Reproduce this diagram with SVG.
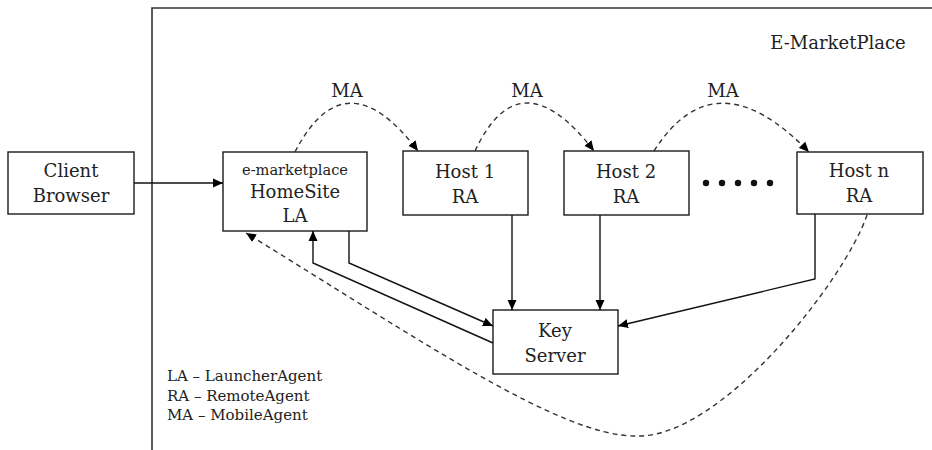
<svg xmlns="http://www.w3.org/2000/svg" width="932" height="450" viewBox="0 0 932 450">
<style>
  .box{fill:#fff;stroke:#1a1a1a;stroke-width:1.4}
  .t{font-family:"DejaVu Serif","Liberation Serif",serif;font-size:18px;fill:#222;text-anchor:middle}
  .s{font-family:"DejaVu Serif","Liberation Serif",serif;font-size:15px;fill:#222}
  .ln{fill:none;stroke:#111;stroke-width:1.4}
  .ds{fill:none;stroke:#333;stroke-width:1.4;stroke-dasharray:5,4}
</style>
<defs>
  <marker id="ah" viewBox="0 0 10 10" refX="10" refY="5" markerWidth="10" markerHeight="10" markerUnits="userSpaceOnUse" orient="auto">
    <path d="M0,0.5 L10,5 L0,9.5 Z" fill="#000"/>
  </marker>
</defs>
<rect width="932" height="450" fill="#fff"/>
<g id="frame">
  <polyline points="152,450 152,8 932,8" fill="none" stroke="#333" stroke-width="1.6"/>
  <text class="t" x="838" y="49">E-MarketPlace</text>
</g>
<g id="client">
  <rect class="box" x="8" y="152" width="126" height="62"/>
  <text class="t" x="71" y="177">Client</text>
  <text class="t" x="71" y="202">Browser</text>
</g>
<g id="homesite">
  <rect class="box" x="223" y="152" width="144" height="79"/>
  <text class="t" x="295" y="175" style="font-size:14.6px">e-marketplace</text>
  <text class="t" x="295" y="198">HomeSite</text>
  <text class="t" x="295" y="222">LA</text>
</g>
<g id="host1">
  <rect class="box" x="403" y="151" width="125" height="64"/>
  <text class="t" x="465" y="178">Host 1</text>
  <text class="t" x="465" y="203">RA</text>
</g>
<g id="host2">
  <rect class="box" x="564" y="151" width="125" height="64"/>
  <text class="t" x="626" y="178">Host 2</text>
  <text class="t" x="626" y="203">RA</text>
</g>
<g id="dots">
  <circle cx="706" cy="183" r="3.2" fill="#111"/>
  <circle cx="722" cy="183" r="3.2" fill="#111"/>
  <circle cx="738" cy="183" r="3.2" fill="#111"/>
  <circle cx="754" cy="183" r="3.2" fill="#111"/>
  <circle cx="770" cy="183" r="3.2" fill="#111"/>
</g>
<g id="hostn">
  <rect class="box" x="797" y="152" width="126" height="62"/>
  <text class="t" x="859" y="177">Host n</text>
  <text class="t" x="859" y="202">RA</text>
</g>
<g id="keyserver">
  <rect class="box" x="493" y="310" width="125" height="64"/>
  <text class="t" x="555" y="337">Key</text>
  <text class="t" x="555" y="362">Server</text>
</g>
<g id="legend">
  <text class="s" x="167" y="381">LA – LauncherAgent</text>
  <text class="s" x="167" y="401">RA – RemoteAgent</text>
  <text class="s" x="167" y="420">MA – MobileAgent</text>
</g>
<g id="connectors">
  <line class="ln" x1="134" y1="183" x2="223" y2="183" marker-end="url(#ah)"/>
  <line class="ln" x1="512" y1="215" x2="512" y2="310" marker-end="url(#ah)"/>
  <line class="ln" x1="600" y1="215" x2="600" y2="310" marker-end="url(#ah)"/>
  <polyline class="ln" points="815,214 815,279 618,326" marker-end="url(#ah)"/>
  <polyline class="ln" points="349,231 349,263 493,326" marker-end="url(#ah)"/>
  <polyline class="ln" points="493,343 313,263 313,231" marker-end="url(#ah)"/>
  <path class="ds" d="M295,152 Q345,55 418,151" marker-end="url(#ah)"/>
  <path class="ds" d="M475,151 Q520,55 594,151" marker-end="url(#ah)"/>
  <path class="ds" d="M654,151 Q715,55 809,152" marker-end="url(#ah)"/>
  <path class="ds" d="M867,215 C845,280 720,440 635,436 C560,436 420,340 246,233" marker-end="url(#ah)"/>
  <text class="t" x="347" y="97">MA</text>
  <text class="t" x="527" y="97">MA</text>
  <text class="t" x="723" y="97">MA</text>
</g>
</svg>
